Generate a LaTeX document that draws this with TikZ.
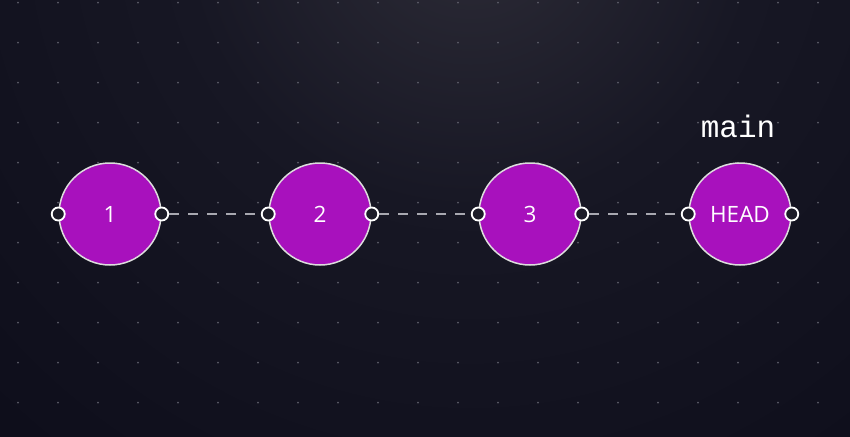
\documentclass[tikz,border=0pt]{standalone}
\usepackage{fontspec}
\setmainfont{Open Sans}
\setmonofont{Liberation Mono}
\usepackage{xcolor}
\definecolor{bgdark}{HTML}{0A0A17}
\definecolor{bgmid}{HTML}{171724}
\definecolor{bglight}{HTML}{2D2C37}
\definecolor{commit}{HTML}{A811BD}
\definecolor{rim}{HTML}{DDDDDD}
\definecolor{griddot}{HTML}{5C5C68}
\definecolor{portfill}{HTML}{1C1C28}
\definecolor{linkgrey}{HTML}{A8A8B0}
\pgfdeclareradialshading{glow}{\pgfpoint{0bp}{0bp}}{color(0bp)=(bglight); color(6bp)=(bgmid); color(18bp)=(bgdark); color(50bp)=(bgdark)}

\begin{document}
\begin{tikzpicture}[x=1pt,y=-1pt]
	\tikzstyle{commitnode} = [circle, fill=commit, draw=rim, line width=1.5pt, minimum size=102pt, inner sep=0pt, text=white, font=\fontsize{22.5}{26}\selectfont]
	\tikzstyle{port} = [circle, fill=portfill, draw=white, line width=1.8pt, minimum size=13pt, inner sep=0pt]
	\tikzstyle{link} = [draw=linkgrey, line width=1.5pt, dash pattern=on 10pt off 9pt]
	\useasboundingbox (0,0) rectangle (850,436);
	% background
	\begin{scope}
		\clip (0,0) rectangle (850,436);
		\fill [bgdark] (0,0) rectangle (850,436);
		\shade [shading=glow] (-730,-1280) rectangle (1670,1120);
	\end{scope}
	% grid of dots
	\foreach \gx in {0,...,20}
		\foreach \gy in {0,...,10}
			\fill [griddot] (18+40*\gx,2.7+40*\gy) circle (1pt);
	% commits
	\node[commitnode] (c1) at (110,214) {1};
	\node[commitnode] (c2) at (320,214) {2};
	\node[commitnode] (c3) at (530,214) {3};
	\node[commitnode] (head) at (740,214) {HEAD};
	\foreach \c in {c1,c2,c3,head} {
		\node[port] (\c l) at (\c.west) {};
		\node[port] (\c r) at (\c.east) {};
	}
	\path [link] (c1r) -- (c2l)
		(c2r) -- (c3l)
		(c3r) -- (headl);
	\node[text=white, font=\ttfamily\fontsize{31}{34}\selectfont] (branch) at (738,126) {main};
\end{tikzpicture}
\end{document}
